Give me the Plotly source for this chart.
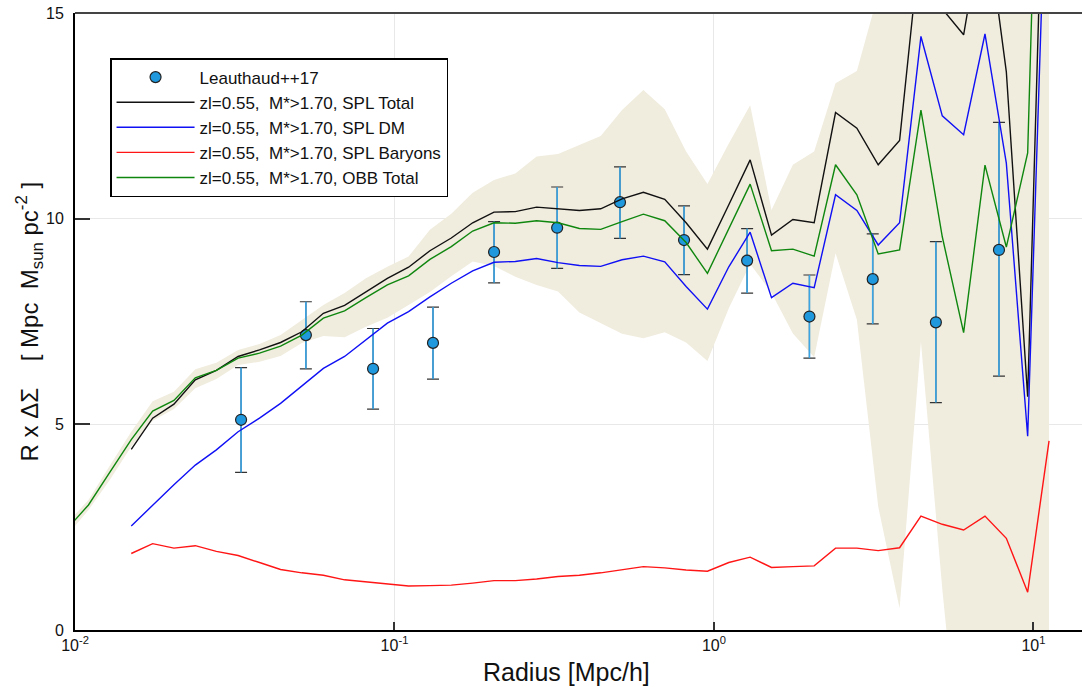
import plotly.graph_objects as go

# model radius grid (Mpc/h); green / band start three steps earlier
r_grid = [0.00945, 0.01102, 0.01286,
          0.0150, 0.0175, 0.0204, 0.0238, 0.0277, 0.0324, 0.0378, 0.0440, 0.0513, 0.0599,
          0.0698, 0.0814, 0.0950, 0.1107, 0.1291, 0.1506, 0.1757, 0.2049, 0.2389, 0.2786,
          0.3250, 0.3791, 0.4421, 0.5156, 0.6014, 0.7014, 0.8181, 0.9541, 1.113, 1.298,
          1.514, 1.766, 2.059, 2.402, 2.801, 3.267, 3.811, 4.445, 5.184, 6.046, 7.052,
          8.225, 9.593, 11.19]
r_model = r_grid[3:]

spl_total = [4.39, 5.15, 5.49, 6.08, 6.31, 6.65, 6.81, 6.99, 7.25, 7.70,
             7.89, 8.23, 8.55, 8.82, 9.22, 9.53, 9.90, 10.16, 10.17, 10.28,
             10.24, 10.20, 10.24, 10.48, 10.64, 10.47, 9.90, 9.26, 10.34, 11.43,
             9.60, 9.98, 9.90, 12.58, 12.20, 11.31, 11.90, 16.9, 15.1, 14.47,
             17.5, 13.57, 5.67, 23.8]
spl_dm = [2.53, 3.04, 3.53, 4.01, 4.38, 4.82, 5.15, 5.51, 5.93, 6.36,
          6.65, 7.05, 7.46, 7.74, 8.10, 8.43, 8.73, 8.94, 8.96, 9.03,
          8.93, 8.86, 8.84, 9.00, 9.09, 8.95, 8.35, 7.80, 8.83, 9.67,
          8.08, 8.43, 8.32, 10.58, 10.20, 9.36, 9.90, 14.43, 12.50, 12.04,
          14.49, 11.35, 4.71, 20.8]
spl_baryons = [1.86, 2.10, 1.99, 2.05, 1.91, 1.81, 1.64, 1.47, 1.39, 1.33,
               1.22, 1.17, 1.11, 1.07, 1.08, 1.09, 1.14, 1.20, 1.20, 1.24,
               1.30, 1.33, 1.39, 1.47, 1.54, 1.51, 1.46, 1.43, 1.64, 1.77,
               1.52, 1.54, 1.56, 1.99, 1.99, 1.93, 2.00, 2.77, 2.57, 2.43,
               2.77, 2.23, 0.92, 4.60]
obb_total = [2.46, 3.04, 3.84, 4.63,
             5.32, 5.58, 6.13, 6.31, 6.61, 6.73, 6.90, 7.17, 7.58, 7.76,
             8.08, 8.39, 8.61, 9.01, 9.32, 9.70, 9.90, 9.89, 9.95, 9.90,
             9.76, 9.74, 9.93, 10.11, 9.95, 9.42, 8.67, 9.76, 10.84, 9.22,
             9.26, 9.09, 11.31, 10.58, 9.14, 9.24, 12.64, 9.56, 7.23, 11.30,
             9.31, 11.60, 29.8]
band_upper = [2.6, 3.16, 4.0, 4.82,
              5.56, 5.79, 6.34, 6.50, 6.81, 6.95, 7.17, 7.54, 7.90, 8.19,
              8.55, 8.83, 9.08, 9.73, 10.12, 10.63, 10.94, 11.10, 11.51, 11.57,
              11.79, 12.01, 12.64, 13.13, 12.66, 11.63, 10.84, 11.83, 12.76, 10.21,
              11.31, 11.63, 13.29, 13.59, 15.47, 18, 18, 18, 18, 18,
              18, 18, 18]
band_lower = [2.3, 2.92, 3.65, 4.46,
              5.09, 5.37, 5.88, 6.10, 6.44, 6.52, 6.66, 6.98, 7.15, 7.12,
              7.37, 7.59, 7.90, 8.22, 8.6, 8.96, 8.85, 8.59, 8.39, 8.23,
              7.72, 7.47, 7.20, 7.09, 7.24, 6.99, 6.54, 7.82, 8.9, 8.2,
              7.21, 6.63, 9.16, 7.54, 3.0, 0.53, 7.01, 1.0, -4.2, -5,
              -5, -5, -5]

# Leauthaud++17 data
obs_r = [0.0331, 0.0528, 0.0857, 0.132, 0.205, 0.323, 0.508, 0.806, 1.27, 1.99, 3.14, 4.95, 7.80]
obs_y = [5.11, 7.17, 6.35, 6.98, 9.19, 9.78, 10.40, 9.48, 8.98, 7.62, 8.53, 7.48, 9.24]
obs_hi = [6.38, 7.98, 7.33, 7.85, 9.93, 10.77, 11.26, 10.31, 9.76, 8.63, 9.63, 9.44, 12.34]
obs_lo = [3.83, 6.35, 5.37, 6.10, 8.44, 8.79, 9.52, 8.64, 8.19, 6.61, 7.44, 5.53, 6.17]

x_tickvals = [0.01, 0.1, 1, 10]
x_ticktext = ['10<sup>-2</sup>', '10<sup>-1</sup>', '10<sup>0</sup>', '10<sup>1</sup>']
y_tickvals = [0, 5, 10, 15]

FONT = 'Liberation Sans, Arial, Helvetica, sans-serif'
BAND = 'rgb(240,236,222)'
label_prefix = 'zl=0.55,\u00a0\u00a0M*>1.70, '
y_title = 'R x \u0394\u03a3\u00a0\u00a0\u00a0\u00a0[ Mpc\u00a0\u00a0M<sub>sun</sub> pc<sup>-2</sup> ]'
x_title = 'Radius [Mpc/h]'

err_plus = [h - y for h, y in zip(obs_hi, obs_y)]
err_minus = [y - l for y, l in zip(obs_y, obs_lo)]

fig = go.Figure()

fig.add_trace(go.Scatter(x=r_grid, y=band_lower, mode='lines', line=dict(width=0),
                         showlegend=False, hoverinfo='skip'))
fig.add_trace(go.Scatter(x=r_grid, y=band_upper, mode='lines', line=dict(width=0),
                         fill='tonexty', fillcolor=BAND, showlegend=False, hoverinfo='skip'))

# error-bar caps (dark) underneath
fig.add_trace(go.Scatter(x=obs_r, y=obs_y, mode='markers', marker=dict(size=1, opacity=0),
                         error_y=dict(type='data', symmetric=False, array=err_plus,
                                      arrayminus=err_minus, color='#333333', thickness=1.2, width=6),
                         showlegend=False, hoverinfo='skip'))
# blue stems + points
fig.add_trace(go.Scatter(x=obs_r, y=obs_y, mode='markers', name='Leauthaud++17',
                         marker=dict(size=11, color='#1f98de', line=dict(color='#222222', width=1.2)),
                         error_y=dict(type='data', symmetric=False, array=err_plus,
                                      arrayminus=err_minus, color='#3aa6e6', thickness=1.6, width=0)))

fig.add_trace(go.Scatter(x=r_model, y=spl_total, mode='lines', name=label_prefix + 'SPL Total',
                         line=dict(color='#111111', width=1.4)))
fig.add_trace(go.Scatter(x=r_model, y=spl_dm, mode='lines', name=label_prefix + 'SPL DM',
                         line=dict(color='#1010f5', width=1.4)))
fig.add_trace(go.Scatter(x=r_model, y=spl_baryons, mode='lines', name=label_prefix + 'SPL Baryons',
                         line=dict(color='#ff1515', width=1.4)))
fig.add_trace(go.Scatter(x=r_grid, y=obb_total, mode='lines', name=label_prefix + 'OBB Total',
                         line=dict(color='#0f870f', width=1.4)))

fig.update_layout(
    width=1082, height=687,
    margin=dict(l=75, r=0, t=13, b=57),
    paper_bgcolor='white', plot_bgcolor='white',
    font=dict(family=FONT, size=16, color='#111111'),
    showlegend=True,
    legend=dict(x=0.0348, y=0.927, xanchor='left', yanchor='top', traceorder='normal',
                bgcolor='white', bordercolor='black', borderwidth=1.5,
                font=dict(family=FONT, size=17, color='#111111'),
                itemwidth=78, tracegroupgap=0),
    xaxis=dict(type='log', range=[-2, 1.152], tickvals=x_tickvals, ticktext=x_ticktext,
               ticks='inside', ticklen=8, tickwidth=1.5, tickcolor='#333333',
               showline=True, linecolor='black', linewidth=2,
               showgrid=True, gridcolor='#e8e8e8', gridwidth=1, zeroline=False,
               tickfont=dict(size=16)),
    yaxis=dict(range=[0, 15], tickvals=y_tickvals,
               ticks='inside', ticklen=15, tickwidth=1.5, tickcolor='#333333',
               showline=True, linecolor='black', linewidth=2,
               showgrid=True, gridcolor='#e8e8e8', gridwidth=1, zeroline=False,
               tickfont=dict(size=16), ticklabelstandoff=6),
    annotations=[
        dict(text=x_title, xref='paper', yref='paper', x=0.4876, y=-0.068,
             xanchor='center', yanchor='middle', showarrow=False,
             font=dict(family=FONT, size=25, color='#111111')),
        dict(text=y_title, xref='paper', yref='paper', x=-0.0457, y=0.5,
             xanchor='center', yanchor='middle', textangle=-90, showarrow=False,
             font=dict(family=FONT, size=24, color='#111111')),
    ],
    shapes=[dict(type='line', xref='paper', yref='paper', x0=0, x1=1, y0=1, y1=1,
                 line=dict(color='#444444', width=2))],
)

fig.write_html('out.html')
